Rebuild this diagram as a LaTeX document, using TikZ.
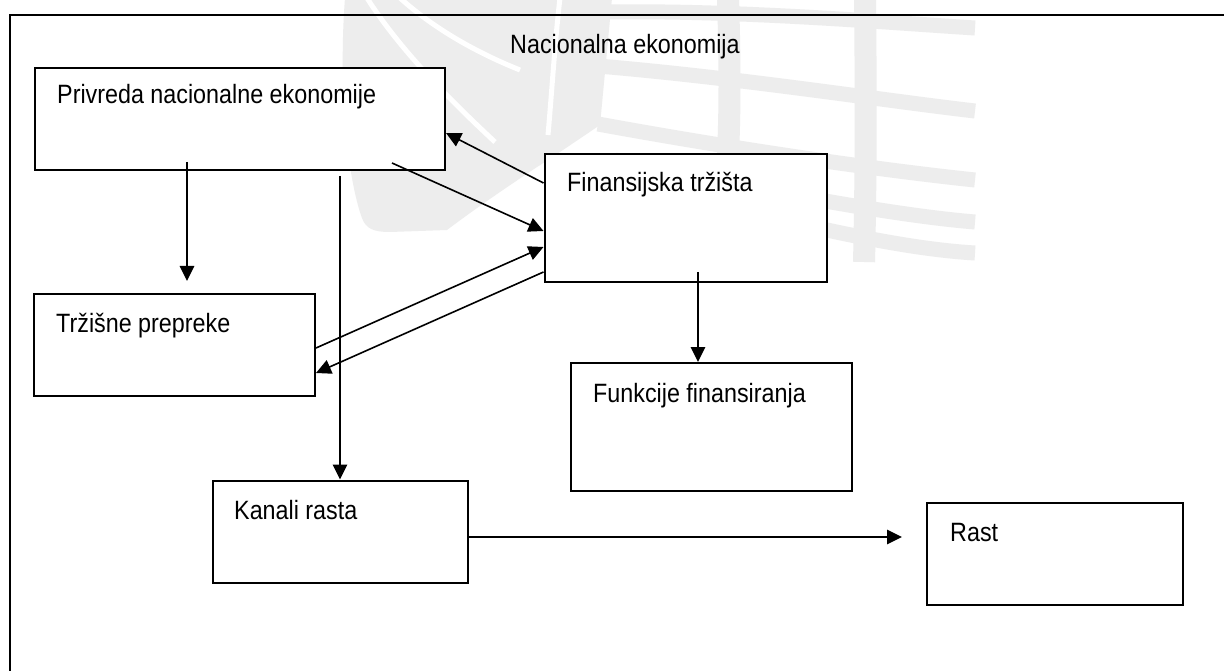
\documentclass[tikz,border=0pt]{standalone}
\usepackage{fontspec}
\setmainfont[FakeStretch=0.88]{Liberation Sans}
\usetikzlibrary{arrows.meta,calc}
\tikzset{
  box/.style={draw=black, line width=2pt, inner sep=0pt, fill=none},
  lbl/.style={anchor=base west, inner sep=0pt, font=\fontsize{26.5}{30}\selectfont},
  conn/.style={line width=1.6pt, -{Triangle[length=15pt,width=14.5pt]}},
  wm/.style={draw=black!7, line width=15pt, line cap=butt},
  wmgap/.style={draw=white, line width=5pt, line cap=butt},
}
\begin{document}
\begin{tikzpicture}[x=1pt,y=-1pt]
\useasboundingbox (0,0) rectangle (1224,671);
\clip (0,0) rectangle (1224,671);
\fill[white] (0,0) rectangle (1224,671);
% watermark (approximate globe logo)
\fill[black!7] (345,-2) .. controls (338,90) and (348,180) .. (362,218)
  .. controls (366,229) and (374,232) .. (390,232) -- (447,230)
  .. controls (480,205) and (520,178) .. (560,152) -- (600,125) -- (612,-2) -- cycle;
\draw[wmgap] (367,-2) .. controls (400,50) and (450,100) .. (495,142);
\draw[wmgap] (400,-2) .. controls (430,25) and (470,50) .. (520,70);
\draw[wmgap] (560,-2) .. controls (555,40) and (552,90) .. (548,135);
\draw[wm] (600,12) .. controls (740,10) and (880,22) .. (975,28);
\draw[wm] (598,66) .. controls (740,78) and (880,100) .. (975,111);
\draw[wm] (598,124) .. controls (740,150) and (880,170) .. (975,180);
\draw[wm] (615,160) .. controls (760,190) and (890,215) .. (975,222);
\draw[wm] (640,185) .. controls (780,220) and (890,248) .. (975,253);
\draw[draw=black!7, line width=22pt] (728,-2) .. controls (730,60) and (730,110) .. (728,155);
\draw[draw=black!7, line width=22pt] (865,-2) .. controls (866,90) and (866,180) .. (864,262);
% outer frame
\draw[line width=2pt] (1240,15) -- (10,15) -- (10,700);
\node[lbl] (title) at (510,54) {Nacionalna ekonomija};
% boxes
\node[box, fill=white, minimum width=410pt, minimum height=102pt] (priv) at (240,119) {};
\node[lbl] (privt) at (57,104) {Privreda nacionalne ekonomije};
\node[box, fill=white, minimum width=282pt, minimum height=128pt] (fin) at (685.5,218) {};
\node[lbl] (fint) at (567,192) {Finansijska tržišta};
\node[box, minimum width=281pt, minimum height=102pt] (trz) at (174.5,345) {};
\node[lbl] (trzt) at (56,332) {Tržišne prepreke};
\node[box, minimum width=281pt, minimum height=128pt] (fun) at (711.5,427) {};
\node[lbl] (funt) at (593,402) {Funkcije finansiranja};
\node[box, minimum width=255pt, minimum height=102pt] (kan) at (340.5,531.5) {};
\node[lbl] (kant) at (234,519) {Kanali rasta};
\node[box, minimum width=256pt, minimum height=102pt] (rast) at (1055,554) {};
\node[lbl] (rastt) at (950,541) {Rast};
% connector ends
\coordinate (a1s) at (187,162);
\coordinate (a1e) at (187,281);
\coordinate (a2s) at (340,176);
\coordinate (a4s) at (392,163);
\coordinate (a7s) at (698,272);
\coordinate (a8e) at (902,537);
% connectors
\draw[conn] (a1s) -- (a1e);
\draw[conn] (a2s) -- (a2s |- kan.north);
\draw[conn] (fin.west |- 0,183) -- (priv.east |- 0,133);
\draw[conn] (a4s) -- (fin.west |- 0,231);
\draw[conn] (trz.east |- 0,348) -- (fin.west |- 0,247);
\draw[conn] (fin.west |- 0,272) -- (trz.east |- 0,373);
\draw[conn] (a7s) -- (a7s |- fun.north);
\draw[conn] (kan.east |- a8e) -- (a8e);
\end{tikzpicture}
\end{document}
